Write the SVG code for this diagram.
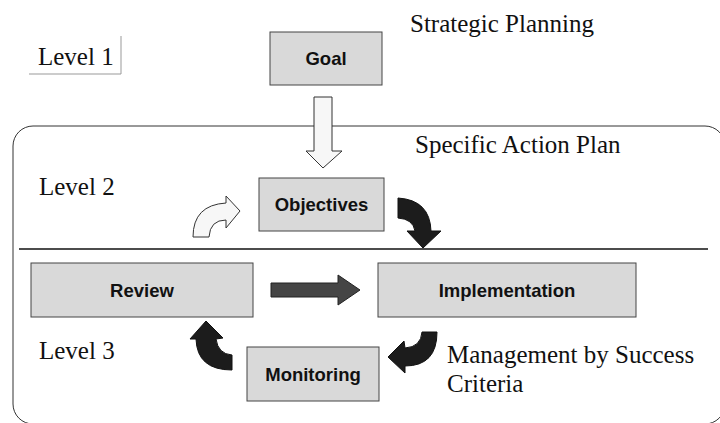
<svg xmlns="http://www.w3.org/2000/svg" width="720" height="423" viewBox="0 0 720 423">
<style>
.bg{fill:#ffffff}
.box{fill:#d9d9d9;stroke:#444;stroke-width:1}
.lbl{font-family:"Liberation Sans",Arial,sans-serif;font-weight:bold;font-size:18.5px;fill:#111;text-anchor:middle}
.ser{font-family:"Liberation Serif","Times New Roman",serif;font-size:25px;fill:#111}
.blk{fill:#1c1c1c;stroke:#111;stroke-width:1}
.wht{fill:#f7f7f7;stroke:#333;stroke-width:1}
.gry{fill:#454545;stroke:#222;stroke-width:1}
</style>
<rect class="bg" x="0" y="0" width="720" height="423"/>
<g id="frames">
<rect x="13" y="126" width="712" height="298" rx="20" ry="20" fill="none" stroke="#333" stroke-width="1"/>
<line x1="19" y1="249" x2="708" y2="249" stroke="#111" stroke-width="1.3"/>
<path d="M121,36 L121,74 L29,74" fill="none" stroke="#999" stroke-width="1"/>
</g>
<g id="labels">
<text class="ser" x="410" y="32">Strategic Planning</text>
<text class="ser" x="38" y="65">Level 1</text>
<text class="ser" x="415" y="153">Specific Action Plan</text>
<text class="ser" x="39" y="195">Level 2</text>
<text class="ser" x="39" y="359">Level 3</text>
<text class="ser" x="447" y="363">Management by Success</text>
<text class="ser" x="447" y="392">Criteria</text>
</g>
<g id="node-goal">
<rect class="box" x="270" y="32" width="112" height="53"/>
<text class="lbl" x="326" y="65">Goal</text>
</g>
<g id="node-objectives">
<rect class="box" x="259" y="178" width="125" height="53"/>
<text class="lbl" x="321.5" y="211">Objectives</text>
</g>
<g id="node-review">
<rect class="box" x="31" y="263" width="222" height="54"/>
<text class="lbl" x="142" y="297">Review</text>
</g>
<g id="node-implementation">
<rect class="box" x="378" y="263" width="258" height="54"/>
<text class="lbl" x="507" y="297">Implementation</text>
</g>
<g id="node-monitoring">
<rect class="box" x="247" y="347" width="132" height="54"/>
<text class="lbl" x="313" y="381">Monitoring</text>
</g>
<g id="connectors">
<path class="wht" d="M314,97 L332,97 L332,151 L342,151 L323,168 L306,151 L314,151 Z"/>
<path class="wht" d="M193,237 Q193,205 226,203 L226,196 L240,211 L226,228 L226,220 Q210,220 209,237 Z"/>
<path class="blk" d="M398,198 Q430,200 431,231 L441,231 L423,248 L407,231 L415,231 Q413,219 398,218 Z"/>
<path class="gry" d="M271,283 L338,283 L338,275 L360,290 L338,305 L338,297 L271,297 Z"/>
<path class="blk" d="M437,332 Q437,366 405,366 L405,373 L388,357 L404,341 L405,348 Q421,347 422,332 Z"/>
<path class="blk" d="M232,355 L232,370 Q197,370 196,339 L190,339 L206,321 L223,338 L216,339 Q218,354 232,355 Z"/>
</g>
</svg>
